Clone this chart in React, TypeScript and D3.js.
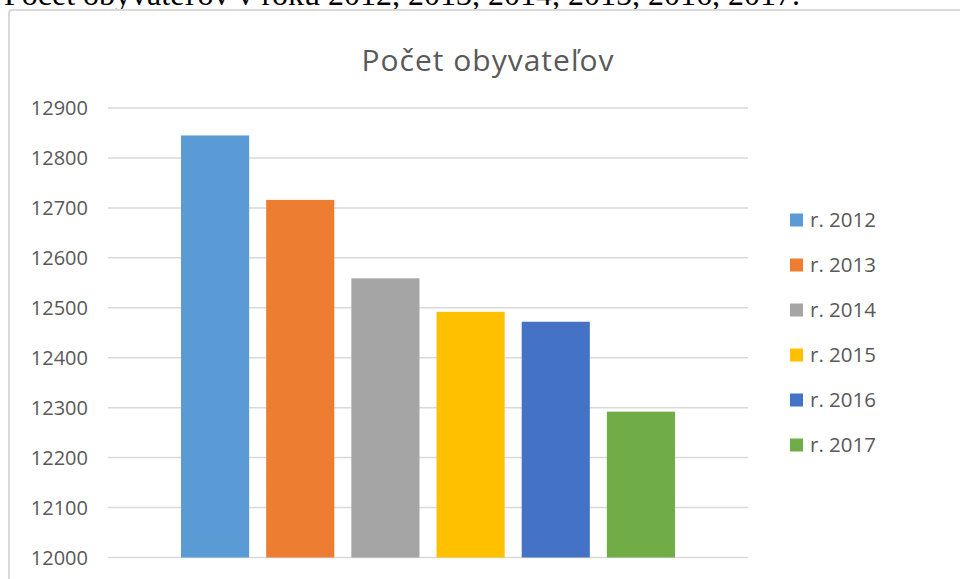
import { useRef, useEffect } from 'react';
import * as d3 from 'd3';

const years = ['r. 2012', 'r. 2013', 'r. 2014', 'r. 2015', 'r. 2016', 'r. 2017'];
const population = [12845, 12716, 12559, 12492, 12472, 12292];
const colors = ['#5b9bd5', '#ed7d31', '#a5a5a5', '#ffc000', '#4472c4', '#70ad47'];
const yTicks = [12000, 12100, 12200, 12300, 12400, 12500, 12600, 12700, 12800, 12900];

const W = 960;
const H = 579;
const FONT = "'Open Sans', 'Noto Sans', sans-serif";

export default function App() {
  const svgRef = useRef<SVGSVGElement>(null);

  useEffect(() => {
    if (!svgRef.current) return;
    const svg = d3.select(svgRef.current);
    svg.selectAll('*').remove();

    svg.append('rect').attr('width', W).attr('height', H).attr('fill', '#fff');

    // caption from the surrounding document, cut off at the top
    svg.append('text')
      .attr('x', 4)
      .attr('y', 5)
      .attr('font-family', "'Liberation Serif', 'Times New Roman', serif")
      .attr('font-size', 32)
      .attr('fill', '#000')
      .text('Počet obyvateľov v roku 2012, 2013, 2014, 2015, 2016, 2017.');

    // chart frame
    svg.append('rect')
      .attr('x', 9)
      .attr('y', 10)
      .attr('width', W + 20)
      .attr('height', H + 20)
      .attr('rx', 3)
      .attr('fill', '#fff')
      .attr('stroke', '#d9d9d9')
      .attr('stroke-width', 2);

    const margin = { left: 108, right: 212, top: 108, bottom: 21.5 };
    const innerW = W - margin.left - margin.right;
    const innerH = H - margin.top - margin.bottom;

    const y = d3.scaleLinear().domain([12000, 12900]).range([innerH, 0]);
    const x = d3.scaleBand<string>().domain(years).range([73, innerW - 73]).paddingInner(0.2);

    const g = svg.append('g').attr('transform', `translate(${margin.left},${margin.top})`);

    // gridlines
    g.selectAll('line.grid')
      .data(yTicks)
      .join('line')
      .attr('class', 'grid')
      .attr('x1', 0)
      .attr('x2', innerW)
      .attr('y1', d => y(d))
      .attr('y2', d => y(d))
      .attr('stroke', '#d9d9d9')
      .attr('stroke-width', 1.5);

    // tick labels
    g.selectAll('text.tick')
      .data(yTicks)
      .join('text')
      .attr('class', 'tick')
      .attr('x', -20)
      .attr('y', d => y(d))
      .attr('dy', '0.35em')
      .attr('text-anchor', 'end')
      .attr('font-family', FONT)
      .attr('font-size', 20)
      .attr('fill', '#595959')
      .text(d => String(d));

    // bars
    g.selectAll('rect.bar')
      .data(population)
      .join('rect')
      .attr('class', 'bar')
      .attr('x', (_, i) => x(years[i])!)
      .attr('width', x.bandwidth())
      .attr('y', d => y(d))
      .attr('height', d => innerH - y(d))
      .attr('fill', (_, i) => colors[i]);

    // title
    svg.append('text')
      .attr('x', 488)
      .attr('y', 71)
      .attr('text-anchor', 'middle')
      .attr('font-family', FONT)
      .attr('font-size', 30)
      .attr('letter-spacing', 1)
      .attr('fill', '#595959')
      .text('Počet obyvateľov');

    // legend
    const legend = svg.append('g').attr('transform', 'translate(790,220)');
    const item = legend.selectAll('g')
      .data(years)
      .join('g')
      .attr('transform', (_, i) => `translate(0,${i * 45})`);
    item.append('rect')
      .attr('x', 0)
      .attr('y', -6.5)
      .attr('width', 13)
      .attr('height', 13)
      .attr('fill', (_, i) => colors[i]);
    item.append('text')
      .attr('x', 20)
      .attr('y', 0)
      .attr('dy', '0.35em')
      .attr('font-family', FONT)
      .attr('font-size', 20.5)
      .attr('fill', '#595959')
      .text(d => d);
  }, []);

  return (
    <svg
      ref={svgRef}
      width={W}
      height={H}
      style={{ position: 'fixed', left: 0, top: 0, display: 'block' }}
    />
  );
}
